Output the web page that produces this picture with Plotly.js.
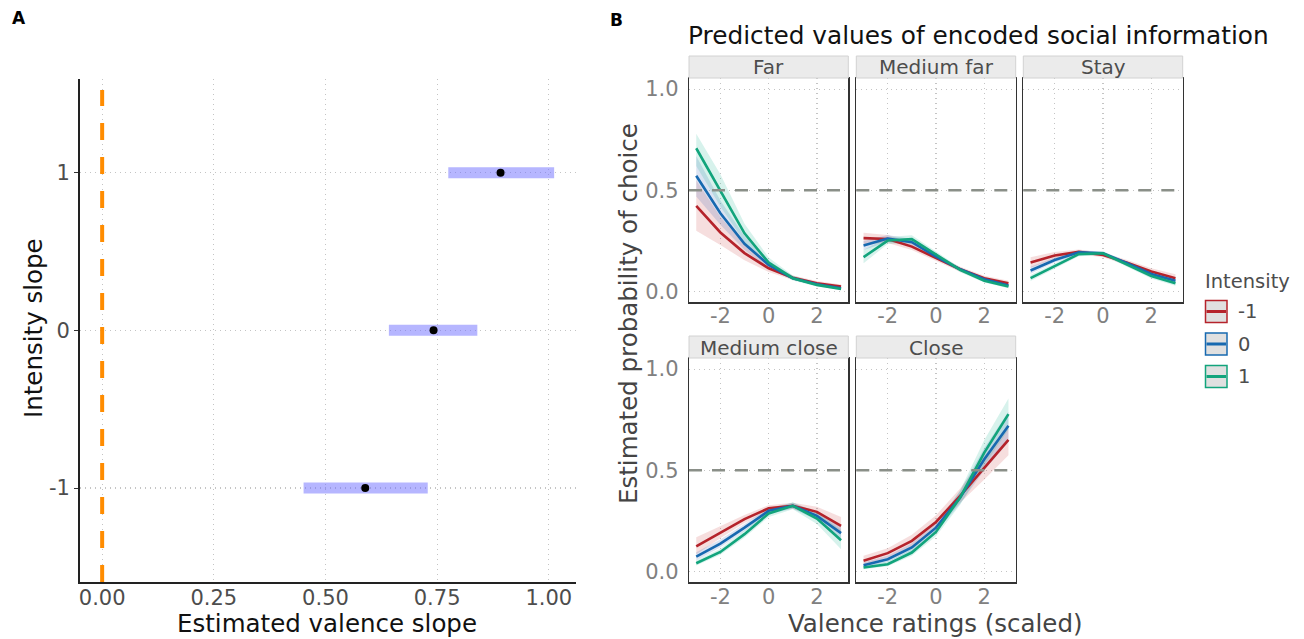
<!DOCTYPE html>
<html>
<head>
<meta charset="utf-8">
<script src="https://cdn.plot.ly/plotly-3.0.1.min.js"></script>
<style>html,body{margin:0;padding:0;background:#fff;}#chart{width:1304px;height:639px;}</style>
</head>
<body>
<div id="chart"></div>
<script>
// ---------- Panel A data ----------
const intensityLevels = [-1, 0, 1];
const valenceEstimate = [0.589, 0.742, 0.892];
const valenceCiLow = [0.451, 0.642, 0.775];
const valenceCiHigh = [0.729, 0.840, 1.012];
const xTicksA = [0, 0.25, 0.5, 0.75, 1.0];
const xTickTextA = ["0.00", "0.25", "0.50", "0.75", "1.00"];

// ---------- Panel B data ----------
const valence = [-3, -2, -1, 0, 1, 2, 3];
const facetNames = ["Far", "Medium far", "Stay", "Medium close", "Close"];
const intensityNames = ["-1", "0", "1"];

const far_m1 = [0.423, 0.292, 0.190, 0.115, 0.068, 0.041, 0.025];
const far_m1_lo = [0.300, 0.230, 0.155, 0.097, 0.057, 0.032, 0.018];
const far_m1_hi = [0.550, 0.370, 0.235, 0.138, 0.080, 0.052, 0.035];
const far_0 = [0.572, 0.387, 0.236, 0.132, 0.066, 0.036, 0.016];
const far_0_lo = [0.470, 0.330, 0.205, 0.115, 0.058, 0.028, 0.011];
const far_0_hi = [0.670, 0.450, 0.275, 0.152, 0.077, 0.045, 0.023];
const far_1 = [0.708, 0.500, 0.288, 0.143, 0.066, 0.033, 0.013];
const far_1_lo = [0.620, 0.420, 0.245, 0.120, 0.055, 0.025, 0.008];
const far_1_hi = [0.780, 0.580, 0.335, 0.168, 0.080, 0.043, 0.020];

const mfar_m1 = [0.264, 0.260, 0.222, 0.165, 0.110, 0.066, 0.041];
const mfar_m1_lo = [0.235, 0.240, 0.205, 0.150, 0.098, 0.055, 0.030];
const mfar_m1_hi = [0.290, 0.280, 0.240, 0.180, 0.122, 0.078, 0.053];
const mfar_0 = [0.227, 0.262, 0.244, 0.173, 0.110, 0.061, 0.030];
const mfar_0_lo = [0.205, 0.245, 0.228, 0.160, 0.100, 0.052, 0.022];
const mfar_0_hi = [0.250, 0.280, 0.260, 0.186, 0.120, 0.070, 0.038];
const mfar_1 = [0.170, 0.252, 0.259, 0.181, 0.107, 0.054, 0.025];
const mfar_1_lo = [0.140, 0.235, 0.240, 0.166, 0.096, 0.045, 0.016];
const mfar_1_hi = [0.205, 0.270, 0.278, 0.196, 0.118, 0.063, 0.034];

const stay_m1 = [0.143, 0.178, 0.196, 0.181, 0.143, 0.099, 0.066];
const stay_m1_lo = [0.118, 0.162, 0.184, 0.170, 0.130, 0.083, 0.048];
const stay_m1_hi = [0.170, 0.195, 0.208, 0.192, 0.156, 0.115, 0.086];
const stay_0 = [0.104, 0.156, 0.194, 0.189, 0.140, 0.087, 0.054];
const stay_0_lo = [0.088, 0.144, 0.184, 0.180, 0.130, 0.076, 0.042];
const stay_0_hi = [0.122, 0.168, 0.204, 0.198, 0.150, 0.098, 0.066];
const stay_1 = [0.066, 0.127, 0.185, 0.189, 0.132, 0.077, 0.041];
const stay_1_lo = [0.052, 0.114, 0.174, 0.179, 0.120, 0.064, 0.029];
const stay_1_hi = [0.082, 0.140, 0.196, 0.199, 0.144, 0.090, 0.054];

const mclose_m1 = [0.124, 0.193, 0.259, 0.313, 0.325, 0.295, 0.226];
const mclose_m1_lo = [0.085, 0.165, 0.240, 0.298, 0.310, 0.270, 0.185];
const mclose_m1_hi = [0.170, 0.225, 0.280, 0.328, 0.340, 0.320, 0.270];
const mclose_0 = [0.074, 0.138, 0.217, 0.300, 0.325, 0.275, 0.190];
const mclose_0_lo = [0.055, 0.120, 0.200, 0.285, 0.310, 0.255, 0.155];
const mclose_0_hi = [0.095, 0.158, 0.235, 0.315, 0.340, 0.295, 0.225];
const mclose_1 = [0.041, 0.097, 0.185, 0.287, 0.325, 0.262, 0.155];
const mclose_1_lo = [0.030, 0.083, 0.168, 0.270, 0.308, 0.235, 0.110];
const mclose_1_hi = [0.055, 0.113, 0.203, 0.304, 0.342, 0.290, 0.205];

const close_m1 = [0.053, 0.091, 0.152, 0.245, 0.374, 0.514, 0.651];
const close_m1_lo = [0.035, 0.070, 0.125, 0.215, 0.340, 0.455, 0.575];
const close_m1_hi = [0.078, 0.115, 0.182, 0.278, 0.410, 0.570, 0.720];
const close_0 = [0.031, 0.061, 0.119, 0.217, 0.366, 0.555, 0.720];
const close_0_lo = [0.020, 0.047, 0.100, 0.195, 0.335, 0.500, 0.640];
const close_0_hi = [0.045, 0.078, 0.140, 0.240, 0.398, 0.610, 0.790];
const close_1 = [0.020, 0.036, 0.094, 0.196, 0.366, 0.588, 0.778];
const close_1_lo = [0.012, 0.026, 0.078, 0.175, 0.330, 0.525, 0.700];
const close_1_hi = [0.030, 0.050, 0.112, 0.220, 0.402, 0.650, 0.855];

const yTicksB = [0, 0.5, 1.0];
const yTickTextB = ["0.0", "0.5", "1.0"];
const xTicksB = [-2, 0, 2];

// ---------- build ----------
const W = 1304, H = 639;
const px = v => v / W;
const py = v => 1 - v / H;

const lineColors = ["#b5232b", "#1769b0", "#12a47c"];
const fillColors = ["rgba(200,60,60,0.17)", "rgba(40,90,180,0.17)", "rgba(20,180,140,0.17)"];
const FONT = "DejaVu Sans, Verdana, sans-serif";
const GRID = {showgrid: true, gridcolor: "#c4c4c4", griddash: "1px,4px", gridwidth: 1.2};

const facetData = [
  [[far_m1, far_m1_lo, far_m1_hi], [far_0, far_0_lo, far_0_hi], [far_1, far_1_lo, far_1_hi]],
  [[mfar_m1, mfar_m1_lo, mfar_m1_hi], [mfar_0, mfar_0_lo, mfar_0_hi], [mfar_1, mfar_1_lo, mfar_1_hi]],
  [[stay_m1, stay_m1_lo, stay_m1_hi], [stay_0, stay_0_lo, stay_0_hi], [stay_1, stay_1_lo, stay_1_hi]],
  [[mclose_m1, mclose_m1_lo, mclose_m1_hi], [mclose_0, mclose_0_lo, mclose_0_hi], [mclose_1, mclose_1_lo, mclose_1_hi]],
  [[close_m1, close_m1_lo, close_m1_hi], [close_0, close_0_lo, close_0_hi], [close_1, close_1_lo, close_1_hi]]
];

const cols = [[689, 848.3], [856.3, 1015.7], [1023.3, 1182.7]];
const rows = [[78, 302.3], [358, 582.3]];
const strips = [[56, 78], [336, 358]];
const facetPos = [[0, 0], [0, 1], [0, 2], [1, 0], [1, 1]];
const rowStandoff = [-6, -5];

const traces = [];
const shapes = [];
const annotations = [];

for (let i = 0; i < intensityLevels.length; i++) {
  traces.push({
    type: "scatter", mode: "lines", xaxis: "x", yaxis: "y",
    x: [valenceCiLow[i], valenceCiHigh[i]], y: [intensityLevels[i], intensityLevels[i]],
    line: {color: "rgba(110,110,255,0.5)", width: 11}, hoverinfo: "skip", showlegend: false
  });
}
traces.push({
  type: "scatter", mode: "markers", xaxis: "x", yaxis: "y",
  x: valenceEstimate, y: intensityLevels,
  marker: {color: "#000", size: 8}, showlegend: false
});

shapes.push({
  type: "line", xref: "x", yref: "y domain", x0: 0, x1: 0, y0: 0, y1: 0.978,
  line: {color: "#ff8c00", width: 4, dash: "17px,17px"}
});

const layout = {
  width: W, height: H,
  margin: {l: 0, r: 0, t: 0, b: 0},
  paper_bgcolor: "#fff", plot_bgcolor: "rgba(0,0,0,0)",
  showlegend: false,
  font: {family: FONT},
  xaxis: Object.assign({
    domain: [px(79.6), px(575.8)], anchor: "y",
    range: [-0.0505, 1.0605], tickvals: xTicksA, ticktext: xTickTextA,
    zeroline: false, showline: true, linecolor: "#222", linewidth: 1.5,
    ticks: "", ticklabelstandoff: -4,
    tickfont: {size: 21, color: "#4d4d4d", family: FONT}
  }, GRID),
  yaxis: Object.assign({
    domain: [py(582), py(79)], anchor: "x",
    range: [-1.596, 1.594], tickvals: intensityLevels, ticktext: ["-1", "0", "1"],
    zeroline: false, showline: true, linecolor: "#222", linewidth: 1.5,
    ticks: "outside", ticklen: 4, tickcolor: "#333",
    tickfont: {size: 21, color: "#4d4d4d", family: FONT}
  }, GRID)
};

facetData.forEach((fd, f) => {
  const n = f + 2;
  const xa = "x" + n, ya = "y" + n;
  const [r, c] = facetPos[f];
  fd.forEach((s, k) => {
    traces.push({
      type: "scatter", mode: "lines", xaxis: xa, yaxis: ya,
      x: valence.concat(valence.slice().reverse()),
      y: s[2].concat(s[1].slice().reverse()),
      fill: "toself", fillcolor: fillColors[k], line: {width: 0, color: "rgba(0,0,0,0)"},
      hoverinfo: "skip", showlegend: false
    });
  });
  fd.forEach((s, k) => {
    traces.push({
      type: "scatter", mode: "lines", xaxis: xa, yaxis: ya,
      x: valence, y: s[0], name: intensityNames[k],
      line: {color: lineColors[k], width: 2.6}, showlegend: false
    });
  });
  layout["xaxis" + n] = Object.assign({
    domain: [px(cols[c][0]), px(cols[c][1])], anchor: ya,
    range: [-3.3, 3.3], tickvals: xTicksB, ticktext: ["-2", "0", "2"],
    zeroline: false, showline: true, mirror: true, linecolor: "#333", linewidth: 1.2,
    ticks: "", ticklabelstandoff: rowStandoff[r],
    tickfont: {size: 21, color: "#808080", family: FONT}
  }, GRID);
  layout["yaxis" + n] = Object.assign({
    domain: [py(rows[r][1]), py(rows[r][0])], anchor: xa,
    range: [-0.053, 1.055], tickvals: yTicksB, ticktext: yTickTextB,
    showticklabels: c === 0,
    zeroline: false, showline: true, mirror: true, linecolor: "#333", linewidth: 1.2,
    ticks: "", ticklabelstandoff: 5,
    tickfont: {size: 21, color: "#808080", family: FONT}
  }, GRID);
  shapes.push({
    type: "line", xref: xa + " domain", yref: ya, x0: 0, x1: 1, y0: 0.5, y1: 0.5,
    line: {color: "#8a8f88", width: 2.5, dash: "13px,10px"}
  });
  shapes.push({
    type: "rect", xref: "paper", yref: "paper",
    x0: px(cols[c][0]), x1: px(cols[c][1]), y0: py(strips[r][1]), y1: py(strips[r][0]),
    fillcolor: "#ebebeb", line: {color: "#d2d2d2", width: 1}
  });
  annotations.push({
    xref: "paper", yref: "paper", x: px((cols[c][0] + cols[c][1]) / 2), y: py((strips[r][0] + strips[r][1]) / 2 + 0.5),
    text: facetNames[f], showarrow: false, xanchor: "center", yanchor: "middle",
    font: {size: 20, color: "#4d4d4d", family: FONT}
  });
});

// Legend (manual)
annotations.push({xref: "paper", yref: "paper", x: px(1203), y: py(282), text: "Intensity",
  showarrow: false, xanchor: "left", yanchor: "middle", font: {size: 19.5, color: "#4d4d4d", family: FONT}});
const keyTops = [300.5, 333, 365.5];
intensityNames.forEach((nm, k) => {
  const t = keyTops[k], b = t + 22;
  shapes.push({type: "rect", xref: "paper", yref: "paper", x0: px(1205.5), x1: px(1227), y0: py(b), y1: py(t),
    fillcolor: "#e0e0e0", line: {color: lineColors[k], width: 1.5}});
  shapes.push({type: "line", xref: "paper", yref: "paper", x0: px(1206.5), x1: px(1226), y0: py((t + b) / 2), y1: py((t + b) / 2),
    line: {color: lineColors[k], width: 3}});
  annotations.push({xref: "paper", yref: "paper", x: px(1236), y: py((t + b) / 2), text: nm,
    showarrow: false, xanchor: "left", yanchor: "middle", font: {size: 19.5, color: "#4d4d4d", family: FONT}});
});

// Titles & labels
annotations.push({xref: "paper", yref: "paper", x: px(10), y: py(18), text: "<b>A</b>", showarrow: false,
  xanchor: "left", yanchor: "middle", font: {size: 17, color: "#000", family: FONT}});
annotations.push({xref: "paper", yref: "paper", x: px(608), y: py(20), text: "<b>B</b>", showarrow: false,
  xanchor: "left", yanchor: "middle", font: {size: 17, color: "#000", family: FONT}});
annotations.push({xref: "paper", yref: "paper", x: px(327), y: py(623), text: "Estimated valence slope", showarrow: false,
  xanchor: "center", yanchor: "middle", font: {size: 24.5, color: "#111", family: FONT}});
annotations.push({xref: "paper", yref: "paper", x: px(33), y: py(328), text: "Intensity slope", showarrow: false,
  textangle: -90, xanchor: "center", yanchor: "middle", font: {size: 24.5, color: "#111", family: FONT}});
annotations.push({xref: "paper", yref: "paper", x: px(978), y: py(35), text: "Predicted values of encoded social information", showarrow: false,
  xanchor: "center", yanchor: "middle", font: {size: 24.8, color: "#111", family: FONT}});
annotations.push({xref: "paper", yref: "paper", x: px(935), y: py(623), text: "Valence ratings (scaled)", showarrow: false,
  xanchor: "center", yanchor: "middle", font: {size: 24.5, color: "#444", family: FONT}});
annotations.push({xref: "paper", yref: "paper", x: px(628), y: py(314), text: "Estimated probability of choice", showarrow: false,
  textangle: -90, xanchor: "center", yanchor: "middle", font: {size: 24.5, color: "#444", family: FONT}});

layout.shapes = shapes;
layout.annotations = annotations;

Plotly.newPlot("chart", traces, layout, {displayModeBar: false, staticPlot: true});
</script>
</body>
</html>
